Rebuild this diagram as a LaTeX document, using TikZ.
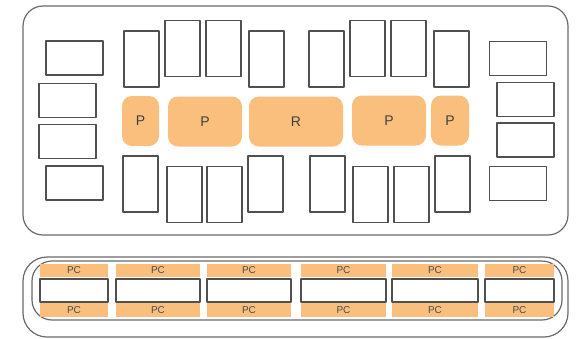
\documentclass[tikz,border=0pt]{standalone}
\usepackage{fontspec}
\setmainfont{Liberation Sans}
\definecolor{pad}{RGB}{250,190,125}
\definecolor{edge}{RGB}{80,80,80}
\begin{document}
\begin{tikzpicture}[x=1pt,y=-1pt,line join=round,
		seat/.style={draw=edge,line width=1.2pt,fill=white,minimum width=35pt,minimum height=56pt,inner sep=0pt},
		bench/.style={seat,minimum width=57pt,minimum height=34pt},
		desk/.style={fill=pad,rounded corners=10pt,minimum height=50pt,inner sep=0pt,text=black!75,font=\fontsize{14}{14}\selectfont},
		pc/.style={fill=pad,minimum height=13.5pt,inner sep=0pt,text=black!70,font=\fontsize{10}{10}\selectfont}]
	\useasboundingbox (0,0) rectangle (578,338);
	\draw[edge!85,line width=1.2pt,rounded corners=20pt] (23,6) rectangle (568,235);
	\foreach \n/\x/\y in {1/141.5/59,2/182.5/48.5,3/223.5/48.5,4/266.5/59,5/326.5/59,6/367.5/48.5,7/408.5/48.5,8/451.5/59}
		\node[seat] (top\n) at (\x,\y) {};
	\foreach \n/\x/\y in {1/140.5/184,2/184.5/194.5,3/224.5/194.5,4/265.5/184,5/327.5/184,6/370.5/194.5,7/411.5/194.5,8/452.5/184}
		\node[seat] (bot\n) at (\x,\y) {};
	\foreach \n/\x/\y in {1/74.5/58,2/67.5/100.5,3/67.5/141.5,4/74.5/183}
		\node[bench] (left\n) at (\x,\y) {};
	\foreach \n/\x/\y in {1/518/58.5,2/525.5/99.5,3/525.5/140,4/518/183.5}
		\node[bench] (right\n) at (\x,\y) {};
	\node[desk,minimum width=37pt] (p1) at (140.5,121) {P};
	\node[desk,minimum width=74pt] (p2) at (205,121.5) {P};
	\node[desk,minimum width=94pt] (r) at (296,121.5) {R};
	\node[desk,minimum width=74pt] (p3) at (389,120.5) {P};
	\node[desk,minimum width=38pt] (p4) at (450,120.5) {P};
	\draw[edge!85,line width=1.2pt,rounded corners=24pt] (23,257) rectangle (568,337);
	\draw[edge!85,line width=1.2pt,rounded corners=20pt] (32,261) rectangle (562,320);
	\foreach \n/\a/\b in {1/40/108,2/116/200,3/207/291,4/301/386,5/392/478,6/485/554}{
		\pgfmathsetmacro{\w}{\b-\a}
		\pgfmathsetmacro{\m}{(\a+\b)/2}
		\node[pc,minimum width=\w pt] (pcu\n) at (\m,270.5) {PC};
		\node[pc,minimum width=\w pt] (pcd\n) at (\m,310) {PC};
		\node[draw=edge,line width=1.2pt,fill=white,minimum width=\w pt,minimum height=23pt,inner sep=0pt] (desk\n) at (\m,290.5) {};
	}
\end{tikzpicture}
\end{document}
